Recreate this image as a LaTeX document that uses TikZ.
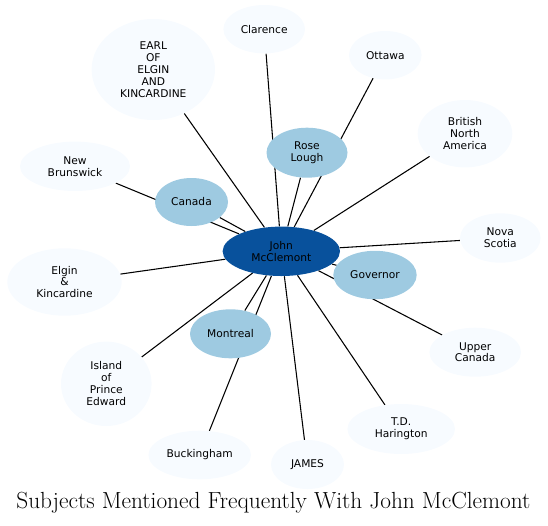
\documentclass[tikz,border=0pt]{standalone}
\usepackage{fontspec}
\newfontfamily\nodefont{DejaVu Sans}
\usetikzlibrary{shapes.geometric,backgrounds}
\definecolor{lightfill}{HTML}{F7FBFF}
\definecolor{midfill}{HTML}{9ECAE1}
\definecolor{darkfill}{HTML}{08519C}
\tikzset{
  base/.style={ellipse, inner sep=0pt, align=center, text=black,
    font=\nodefont\fontsize{8pt}{8.9pt}\selectfont},
  sz/.style 2 args={minimum width=#1*1.5pt, minimum height=#2*1.5pt},
  light/.style={base, fill=lightfill},
  mid/.style={base, fill=midfill},
  hub/.style={base, fill=darkfill},
  edge/.style={draw=black, line width=0.8pt}
}
\begin{document}
\begin{tikzpicture}[x=0.75pt,y=-0.75pt]
\useasboundingbox (0,0) rectangle (548,525);
\node[hub, sz={58.7}{24.7}] (john) at (281.3,251.3) {John\\McClemont};
\node[mid, sz={40.5}{25}] (rose) at (307,152.7) {Rose\\Lough};
\node[mid, sz={36.5}{24}] (canada) at (191.5,202) {Canada};
\node[mid, sz={41.7}{24.2}] (governor) at (375,275) {Governor};
\node[mid, sz={40.5}{24.5}] (montreal) at (230.5,333.8) {Montreal};
\node[light, sz={61.7}{50.5}] (earl) at (153.3,69.5) {EARL\\OF\\ELGIN\\AND\\KINCARDINE};
\node[light, sz={40.8}{24.2}] (clarence) at (264.2,29.2) {Clarence};
\node[light, sz={36.3}{24.2}] (ottawa) at (385.3,55.2) {Ottawa};
\node[light, sz={47.3}{33.7}] (bna) at (465,133.7) {British\\North\\America};
\node[light, sz={40.3}{24.7}] (nova) at (500.3,238) {Nova\\Scotia};
\node[light, sz={45.8}{24.5}] (upper) at (475.2,352.2) {Upper\\Canada};
\node[light, sz={53.8}{25}] (td) at (401.2,429) {T.D.\\Harington};
\node[light, sz={36.5}{24.5}] (james) at (307.5,464.5) {JAMES};
\node[light, sz={51.3}{24.3}] (buck) at (199.7,455) {Buckingham};
\node[light, sz={45.3}{42.2}] (island) at (106.3,383.8) {Island\\of\\Prince\\Edward};
\node[light, sz={57.2}{33.7}] (elgin) at (64.5,282) {Elgin\\\&\\Kincardine};
\node[light, sz={55}{24.7}] (nb) at (75,166.3) {New\\Brunswick};
\begin{scope}[on background layer]
\foreach \t in {rose,canada,governor,montreal,earl,clarence,ottawa,bna,nova,upper,td,james,buck,island,elgin,nb}
  \draw[edge] (john) -- (\t);
\end{scope}
\node[anchor=base, inner sep=0pt] (title) at (273.4,508.6) {\scalebox{1.067}{\fontsize{16.4pt}{19pt}\selectfont Subjects Mentioned Frequently With John McClemont}};
\end{tikzpicture}
\end{document}
